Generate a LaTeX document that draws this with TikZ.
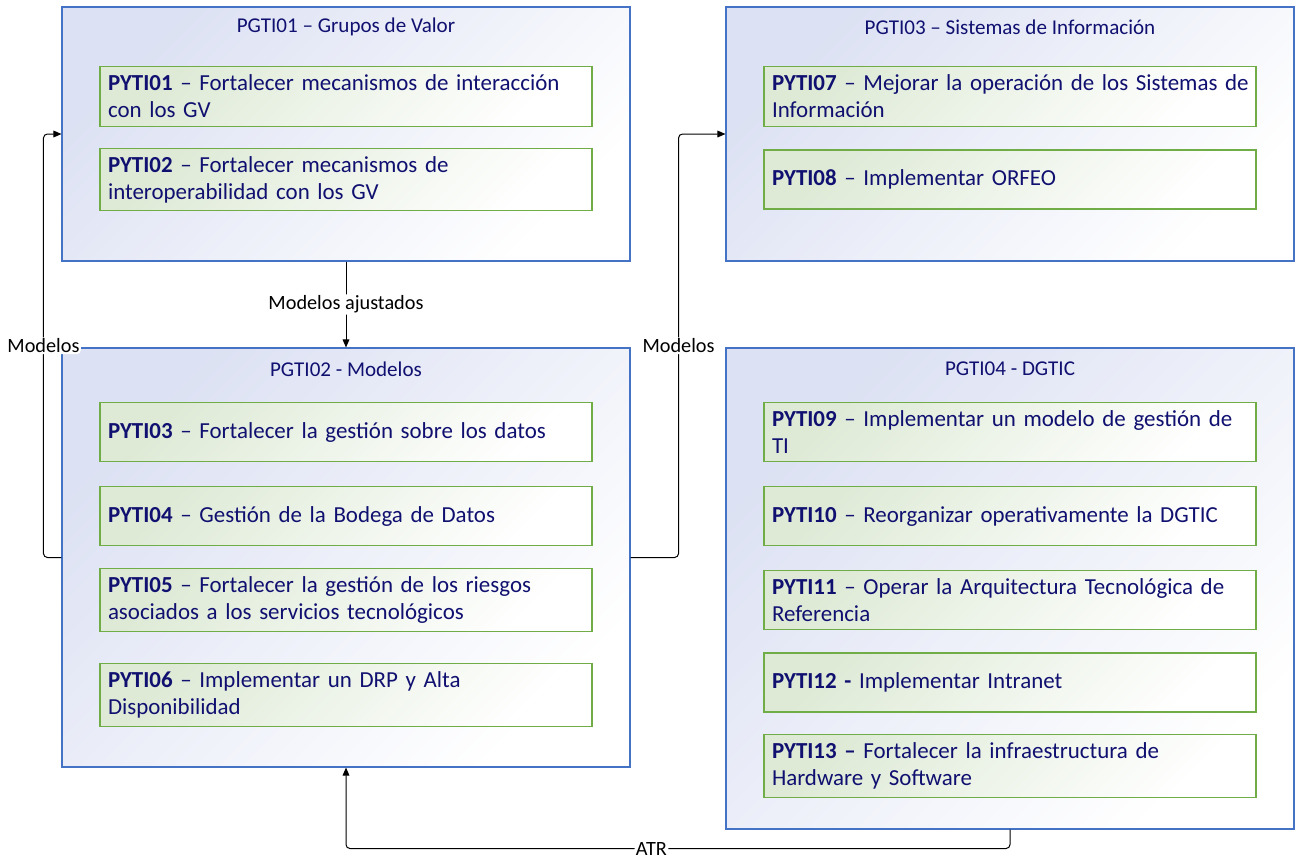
\documentclass[tikz,border=0pt]{standalone}
\usepackage{fontspec}
\setmainfont{Carlito}
\usetikzlibrary{arrows.meta}
\definecolor{navytext}{RGB}{16,16,112}
\definecolor{groupline}{RGB}{68,114,196}
\definecolor{groupfill}{RGB}{220,225,243}
\definecolor{projline}{RGB}{112,173,71}
\definecolor{projfill}{RGB}{222,234,214}
\begin{document}
\begin{tikzpicture}[x=0.75pt, y=-0.75pt,
		group/.style={draw=groupline, line width=0.8pt, top color=groupfill, bottom color=white, shading angle=45, minimum width=426pt},
		grouptitle/.style={text=navytext, font=\fontsize{15.8}{19}\selectfont},
		project/.style={draw=projline, line width=0.8pt, top color=projfill, bottom color=white, shading angle=45, minimum height=44.25pt, text width=357pt, inner sep=6pt, align=left, text=navytext, font=\fontsize{17.2}{20.4}\selectfont},
		flow/.style={-{Triangle[length=6pt,width=5pt]}, line width=0.75pt, rounded corners=3pt},
		flowlabel/.style={fill=white, inner sep=1pt, font=\fontsize{15.2}{18}\selectfont}]
		\useasboundingbox (0,0) rectangle (1298,858);

		% groups
		\node[group, minimum height=190.5pt] (gA) at (346,134) {};
		\node[group, minimum height=314.25pt] (gB) at (346,557.5) {};
		\node[group, minimum height=190.5pt] (gC) at (1010,134) {};
		\node[group, minimum height=360.75pt] (gD) at (1010,588.5) {};

		\node[grouptitle] (tA) at (346,27) {PGTI01 – Grupos de Valor};
		\node[grouptitle] (tB) at (346,369) {PGTI02 - Modelos};
		\node[grouptitle] (tC) at (1010,27) {PGTI03 – Sistemas de Información};
		\node[grouptitle] (tD) at (1010,369) {PGTI04 - DGTIC};

		% projects
		\node[project] (pA1) at (346,96.5) {\textbf{PYTI01} – Fortalecer mecanismos de interacción\\con los GV};
		\node[project] (pA2) at (346,179.5) {\textbf{PYTI02} – Fortalecer mecanismos de\\interoperabilidad con los GV};

		\node[project] (pB1) at (346,432) {\textbf{PYTI03} – Fortalecer la gestión sobre los datos};
		\node[project] (pB2) at (346,516) {\textbf{PYTI04} – Gestión de la Bodega de Datos};
		\node[project] (pB3) at (346,600) {\textbf{PYTI05} – Fortalecer la gestión de los riesgos\\asociados a los servicios tecnológicos};
		\node[project] (pB4) at (346,695) {\textbf{PYTI06} – Implementar un DRP y Alta\\Disponibilidad};

		\node[project] (pC1) at (1010,96.5) {\mbox{\textbf{PYTI07} – Mejorar la operación de los Sistemas de}\\Información};
		\node[project] (pC2) at (1010,179.5) {\textbf{PYTI08} – Implementar ORFEO};

		\node[project] (pD1) at (1010,432) {\textbf{PYTI09} – Implementar un modelo de gestión de\\TI};
		\node[project] (pD2) at (1010,516) {\textbf{PYTI10} – Reorganizar operativamente la DGTIC};
		\node[project] (pD3) at (1010,600) {\textbf{PYTI11} – Operar la Arquitectura Tecnológica de\\Referencia};
		\node[project] (pD4) at (1010,682.5) {\textbf{PYTI12 -} Implementar Intranet};
		\node[project] (pD5) at (1010,766) {\textbf{PYTI13 –} Fortalecer la infraestructura de\\Hardware y Software};

		% flows
		\draw[flow] (gA.south) -- node[flowlabel]{Modelos ajustados} (gB.north);
		\draw[flow] (gB.west) -- ++(-18,0) |- node[pos=0.25, flowlabel]{Modelos} (gA.west);
		\draw[flow] (gB.east) -- ++(48,0) |- node[pos=0.25, flowlabel]{Modelos} (gC.west);
		\draw[flow] (gD.south) -- ++(0,19) -| node[pos=0.27, flowlabel]{ATR} (gB.south);
	\end{tikzpicture}
\end{document}
